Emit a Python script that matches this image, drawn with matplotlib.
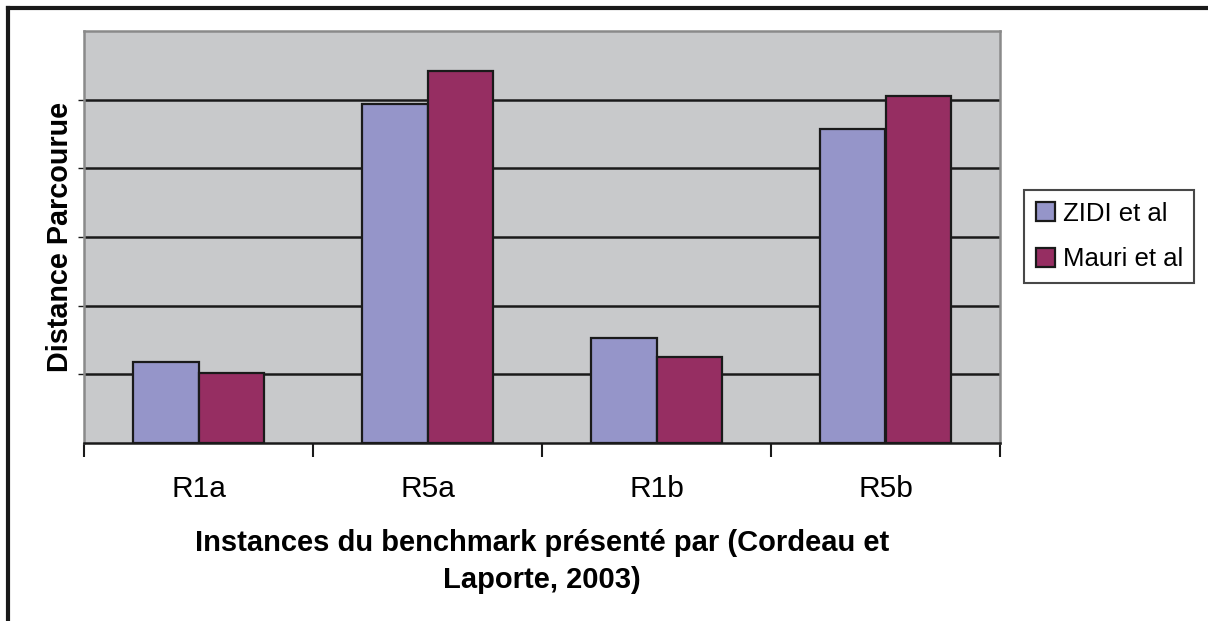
import numpy as np
import matplotlib.pyplot as plt
from matplotlib.lines import Line2D

# Donnees
instances = ["R1a", "R5a", "R1b", "R5b"]
zidi = [1.18, 4.94, 1.53, 4.57]
mauri = [1.02, 5.42, 1.25, 5.05]

plt.rcParams["font.family"] = ["Liberation Sans", "DejaVu Sans"]

fig = plt.figure(figsize=(12.08, 6.21), dpi=100)
ax = fig.add_axes([84 / 1208, 1 - 443 / 621, 916 / 1208, 412 / 621])

x = np.arange(len(instances))
w = 0.288
ax.bar(x - w / 2, zidi, w, color="#9595C9", edgecolor="#1a1a1a", linewidth=1.6,
       label="ZIDI et al", zorder=3)
ax.bar(x + w / 2, mauri, w, color="#962E62", edgecolor="#1a1a1a", linewidth=1.6,
       label="Mauri et al", zorder=3)

ax.set_facecolor("#C8C9CB")
ax.set_xlim(-0.5, 3.5)
ax.set_ylim(0, 6)
ax.set_yticks([1, 2, 3, 4, 5])
ax.set_yticklabels([])
ax.yaxis.grid(True, color="#1a1a1a", linewidth=1.8, zorder=1)
ax.set_axisbelow(True)
ax.tick_params(axis="y", length=4, width=1, color="#1a1a1a")

ax.set_xticks(x)
ax.set_xticklabels(instances, fontsize=21.5)
ax.tick_params(axis="x", which="major", length=0, pad=23)
ax.set_xticks(np.arange(-0.5, 4.0, 1.0), minor=True)
ax.tick_params(axis="x", which="minor", length=10, width=1.5, color="#1a1a1a")

for s in ["top", "right", "left"]:
    ax.spines[s].set_color("#8a8a8a")
    ax.spines[s].set_linewidth(1.8)
ax.spines["bottom"].set_color("#1a1a1a")
ax.spines["bottom"].set_linewidth(1.8)

ax.set_ylabel("Distance Parcourue", fontsize=20.7, fontweight="bold", labelpad=0)
ax.set_xlabel("Instances du benchmark présenté par (Cordeau et\nLaporte, 2003)",
              fontsize=21, fontweight="bold", labelpad=19, linespacing=1.4)

leg = fig.legend(loc="upper left", bbox_to_anchor=(1024 / 1208, 1 - 190 / 621),
                 fontsize=18.5, frameon=True, fancybox=False, edgecolor="#1a1a1a",
                 handlelength=0.75, handleheight=0.75, handletextpad=0.3,
                 borderpad=0.45, labelspacing=0.85, borderaxespad=0)
leg.get_frame().set_linewidth(1.5)

# cadre exterieur
fig.add_artist(Line2D([8 / 1208, 1], [1 - 8 / 621, 1 - 8 / 621], color="#1a1a1a", linewidth=3))
fig.add_artist(Line2D([8 / 1208, 8 / 1208], [0, 1 - 8 / 621], color="#1a1a1a", linewidth=3))

fig.savefig("out.png", dpi=100, facecolor="white")
